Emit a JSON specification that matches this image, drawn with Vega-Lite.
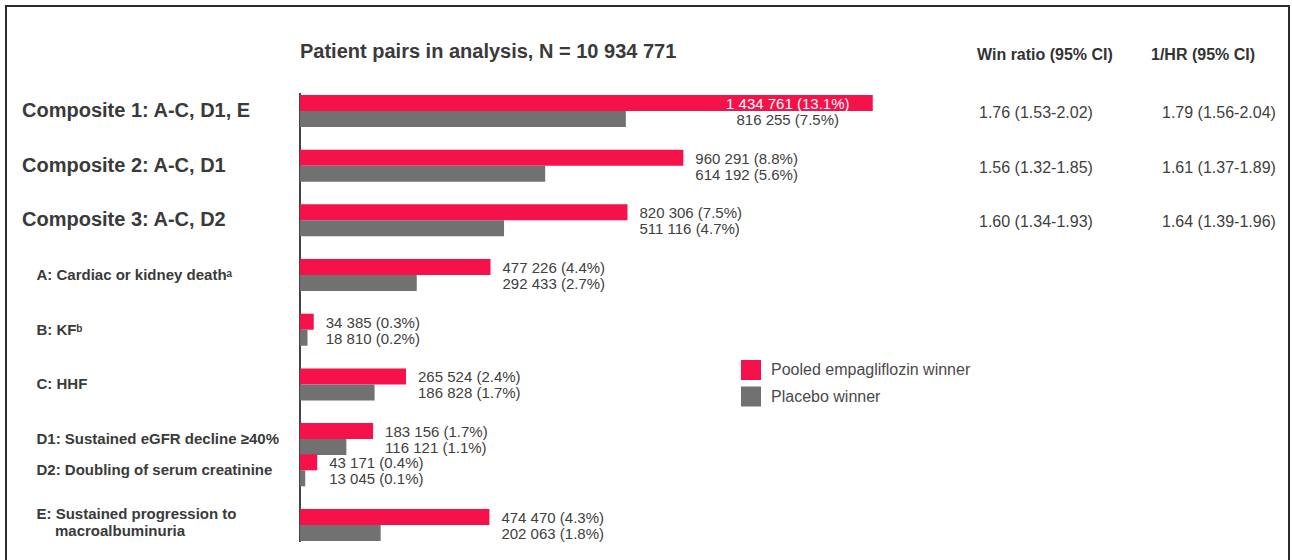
{
  "$schema": "https://vega.github.io/schema/vega-lite/v6.json",
  "width": 1283,
  "height": 555,
  "padding": {"left": 6, "top": 6, "right": 3, "bottom": -1},
  "autosize": {"type": "none"},
  "background": "white",
  "config": {"view": {"stroke": "#2b2b2b", "strokeWidth": 2}, "font": "Liberation Sans"},
  "datasets": {
    "bars": [
      {"outcome": "Composite 1: A-C, D1, E", "series": "Pooled empagliflozin winner", "n": 1434761, "label": "1 434 761 (13.1%)"},
      {"outcome": "Composite 1: A-C, D1, E", "series": "Placebo winner", "n": 816255, "label": "816 255 (7.5%)"},
      {"outcome": "Composite 2: A-C, D1", "series": "Pooled empagliflozin winner", "n": 960291, "label": "960 291 (8.8%)"},
      {"outcome": "Composite 2: A-C, D1", "series": "Placebo winner", "n": 614192, "label": "614 192 (5.6%)"},
      {"outcome": "Composite 3: A-C, D2", "series": "Pooled empagliflozin winner", "n": 820306, "label": "820 306 (7.5%)"},
      {"outcome": "Composite 3: A-C, D2", "series": "Placebo winner", "n": 511116, "label": "511 116 (4.7%)"},
      {"outcome": "A: Cardiac or kidney deathᵃ", "series": "Pooled empagliflozin winner", "n": 477226, "label": "477 226 (4.4%)"},
      {"outcome": "A: Cardiac or kidney deathᵃ", "series": "Placebo winner", "n": 292433, "label": "292 433 (2.7%)"},
      {"outcome": "B: KFᵇ", "series": "Pooled empagliflozin winner", "n": 34385, "label": "34 385 (0.3%)"},
      {"outcome": "B: KFᵇ", "series": "Placebo winner", "n": 18810, "label": "18 810 (0.2%)"},
      {"outcome": "C: HHF", "series": "Pooled empagliflozin winner", "n": 265524, "label": "265 524 (2.4%)"},
      {"outcome": "C: HHF", "series": "Placebo winner", "n": 186828, "label": "186 828 (1.7%)"},
      {"outcome": "D1: Sustained eGFR decline ≥40%", "series": "Pooled empagliflozin winner", "n": 183156, "label": "183 156 (1.7%)"},
      {"outcome": "D1: Sustained eGFR decline ≥40%", "series": "Placebo winner", "n": 116121, "label": "116 121 (1.1%)"},
      {"outcome": "D2: Doubling of serum creatinine", "series": "Pooled empagliflozin winner", "n": 43171, "label": "43 171 (0.4%)"},
      {"outcome": "D2: Doubling of serum creatinine", "series": "Placebo winner", "n": 13045, "label": "13 045 (0.1%)"},
      {"outcome": "E: Sustained progression to macroalbuminuria", "series": "Pooled empagliflozin winner", "n": 474470, "label": "474 470 (4.3%)"},
      {"outcome": "E: Sustained progression to macroalbuminuria", "series": "Placebo winner", "n": 202063, "label": "202 063 (1.8%)"}
    ],
    "labels": [
      {"outcome": "Composite 1: A-C, D1, E", "text": "Composite 1: A-C, D1, E"},
      {"outcome": "Composite 2: A-C, D1", "text": "Composite 2: A-C, D1"},
      {"outcome": "Composite 3: A-C, D2", "text": "Composite 3: A-C, D2"},
      {"outcome": "A: Cardiac or kidney deathᵃ", "text": "A: Cardiac or kidney deathᵃ"},
      {"outcome": "B: KFᵇ", "text": "B: KFᵇ"},
      {"outcome": "C: HHF", "text": "C: HHF"},
      {"outcome": "D1: Sustained eGFR decline ≥40%", "text": "D1: Sustained eGFR decline ≥40%"},
      {"outcome": "D2: Doubling of serum creatinine", "text": "D2: Doubling of serum creatinine"},
      {"outcome": "E: Sustained progression to macroalbuminuria", "text": "E: Sustained progression to"},
      {"outcome": "E: Sustained progression to macroalbuminuria", "text": "macroalbuminuria"}
    ],
    "stats": [
      {"outcome": "Composite 1: A-C, D1, E", "col": "Win ratio (95% CI)", "v": "1.76 (1.53-2.02)"},
      {"outcome": "Composite 1: A-C, D1, E", "col": "1/HR (95% CI)", "v": "1.79 (1.56-2.04)"},
      {"outcome": "Composite 2: A-C, D1", "col": "Win ratio (95% CI)", "v": "1.56 (1.32-1.85)"},
      {"outcome": "Composite 2: A-C, D1", "col": "1/HR (95% CI)", "v": "1.61 (1.37-1.89)"},
      {"outcome": "Composite 3: A-C, D2", "col": "Win ratio (95% CI)", "v": "1.60 (1.34-1.93)"},
      {"outcome": "Composite 3: A-C, D2", "col": "1/HR (95% CI)", "v": "1.64 (1.39-1.96)"}
    ]
  },
  "layer": [
    {
      "layer": [
        {
          "data": {"values": [{}]},
          "mark": {"type": "rule", "color": "#444444", "strokeWidth": 2},
          "encoding": {
            "x": {"datum": 0, "type": "quantitative", "axis": null,
              "scale": {"domain": [-736470, 2477445], "nice": false, "zero": false}},
            "y": {"datum": "_5", "type": "nominal", "bandPosition": 0.2, "axis": null,
              "scale": {"type": "band", "domain": ["_h","_1","_2","_3","_4","_5","_6","Composite 1: A-C, D1, E","_7","_8","_9","_10","_11","_12","Composite 2: A-C, D1","_13","_14","_15","_16","_17","_18","Composite 3: A-C, D2","_19","_20","_21","_22","_23","_24","A: Cardiac or kidney deathᵃ","_25","_26","_27","_28","_29","_30","B: KFᵇ","_31","_32","_33","_34","_35","_36","C: HHF","_37","_38","_39","_40","_41","_42","D1: Sustained eGFR decline ≥40%","_43","_44","_45","D2: Doubling of serum creatinine","_46","_47","_48","_49","_50","_51","E: Sustained progression to macroalbuminuria","_52","_53"], "paddingInner": 0, "paddingOuter": 0, "range": [46.415, 538.53], "round": false}},
            "y2": {"datum": "_53", "bandPosition": 0.68}
          }
        },
        {
          "data": {"name": "bars"},
          "mark": {"type": "bar"},
          "encoding": {
            "x": {"field": "n", "type": "quantitative", "axis": null,
              "scale": {"domain": [-736470, 2477445], "nice": false, "zero": false}},
            "x2": {"datum": 0},
            "y": {"field": "outcome", "type": "nominal", "axis": null,
              "scale": {"type": "band", "domain": ["_h","_1","_2","_3","_4","_5","_6","Composite 1: A-C, D1, E","_7","_8","_9","_10","_11","_12","Composite 2: A-C, D1","_13","_14","_15","_16","_17","_18","Composite 3: A-C, D2","_19","_20","_21","_22","_23","_24","A: Cardiac or kidney deathᵃ","_25","_26","_27","_28","_29","_30","B: KFᵇ","_31","_32","_33","_34","_35","_36","C: HHF","_37","_38","_39","_40","_41","_42","D1: Sustained eGFR decline ≥40%","_43","_44","_45","D2: Doubling of serum creatinine","_46","_47","_48","_49","_50","_51","E: Sustained progression to macroalbuminuria","_52","_53"], "paddingInner": 0, "paddingOuter": 0, "range": [46.415, 538.53], "round": false}},
            "yOffset": {"field": "series", "type": "nominal",
              "scale": {"domain": ["Pooled empagliflozin winner", "Placebo winner"], "range": [-12.094, 19.906], "paddingInner": 0, "paddingOuter": 0}},
            "color": {"field": "series", "type": "nominal",
              "scale": {"domain": ["Pooled empagliflozin winner", "Placebo winner"], "range": ["#f5114a", "#717171"]},
              "legend": {"orient": "none", "legendX": 735, "legendY": 354, "title": null, "padding": 0,
                "symbolType": "square", "symbolSize": 400, "symbolStrokeWidth": 0,
                "labelFontSize": 16, "labelColor": "#4a4a4a", "labelOffset": 10, "rowPadding": 6.5, "labelLimit": 0}}
          }
        },
        {
          "data": {"name": "bars"},
          "transform": [{"joinaggregate": [{"op": "max", "field": "n", "as": "nmax"}], "groupby": ["outcome"]}],
          "mark": {"type": "text", "fontSize": 15, "baseline": "middle", "dy": 1,
            "align": {"expr": "datum.outcome == 'Composite 1: A-C, D1, E' ? 'center' : 'left'"},
            "dx": {"expr": "datum.outcome == 'Composite 1: A-C, D1, E' ? -85 : 12"}},
          "encoding": {
            "x": {"field": "nmax", "type": "quantitative", "axis": null,
              "scale": {"domain": [-736470, 2477445], "nice": false, "zero": false}},
            "y": {"field": "outcome", "type": "nominal", "axis": null,
              "scale": {"type": "band", "domain": ["_h","_1","_2","_3","_4","_5","_6","Composite 1: A-C, D1, E","_7","_8","_9","_10","_11","_12","Composite 2: A-C, D1","_13","_14","_15","_16","_17","_18","Composite 3: A-C, D2","_19","_20","_21","_22","_23","_24","A: Cardiac or kidney deathᵃ","_25","_26","_27","_28","_29","_30","B: KFᵇ","_31","_32","_33","_34","_35","_36","C: HHF","_37","_38","_39","_40","_41","_42","D1: Sustained eGFR decline ≥40%","_43","_44","_45","D2: Doubling of serum creatinine","_46","_47","_48","_49","_50","_51","E: Sustained progression to macroalbuminuria","_52","_53"], "paddingInner": 0, "paddingOuter": 0, "range": [46.415, 538.53], "round": false}},
            "yOffset": {"field": "series", "type": "nominal",
              "scale": {"domain": ["Pooled empagliflozin winner", "Placebo winner"], "range": [-12.094, 19.906], "paddingInner": 0, "paddingOuter": 0}},
            "text": {"field": "label"},
            "color": {"condition": {"test": "datum.outcome == 'Composite 1: A-C, D1, E' && datum.series == 'Pooled empagliflozin winner'", "value": "#ffffff"}, "value": "#404040"}
          }
        },
        {
          "data": {"name": "labels"},
          "mark": {"type": "text", "align": "left", "baseline": "middle", "fontWeight": "bold", "color": "#3a3a3a",
            "fontSize": {"expr": "indexof(datum.outcome, 'Composite') == 0 ? 20 : 15"},
            "dx": {"expr": "indexof(datum.outcome, 'Composite') == 0 ? 0 : (datum.text == 'macroalbuminuria' ? 33 : 14.5)"},
            "dy": {"expr": "datum.text == 'macroalbuminuria' ? 6 : (datum.text == 'E: Sustained progression to' ? -11 : 0)"}},
          "encoding": {
            "x": {"datum": -696390, "type": "quantitative", "axis": null,
              "scale": {"domain": [-736470, 2477445], "nice": false, "zero": false}},
            "y": {"field": "outcome", "type": "nominal", "axis": null,
              "scale": {"type": "band", "domain": ["_h","_1","_2","_3","_4","_5","_6","Composite 1: A-C, D1, E","_7","_8","_9","_10","_11","_12","Composite 2: A-C, D1","_13","_14","_15","_16","_17","_18","Composite 3: A-C, D2","_19","_20","_21","_22","_23","_24","A: Cardiac or kidney deathᵃ","_25","_26","_27","_28","_29","_30","B: KFᵇ","_31","_32","_33","_34","_35","_36","C: HHF","_37","_38","_39","_40","_41","_42","D1: Sustained eGFR decline ≥40%","_43","_44","_45","D2: Doubling of serum creatinine","_46","_47","_48","_49","_50","_51","E: Sustained progression to macroalbuminuria","_52","_53"], "paddingInner": 0, "paddingOuter": 0, "range": [46.415, 538.53], "round": false}},
            "text": {"field": "text"}
          }
        },
        {
          "data": {"values": [{"t": "Patient pairs in analysis, N = 10 934 771"}]},
          "mark": {"type": "text", "align": "left", "baseline": "middle", "fontSize": 20, "fontWeight": "bold", "color": "#3a3a3a", "dy": -4},
          "encoding": {
            "x": {"datum": 0, "type": "quantitative", "axis": null,
              "scale": {"domain": [-736470, 2477445], "nice": false, "zero": false}},
            "y": {"datum": "_h", "type": "nominal", "axis": null,
              "scale": {"type": "band", "domain": ["_h","_1","_2","_3","_4","_5","_6","Composite 1: A-C, D1, E","_7","_8","_9","_10","_11","_12","Composite 2: A-C, D1","_13","_14","_15","_16","_17","_18","Composite 3: A-C, D2","_19","_20","_21","_22","_23","_24","A: Cardiac or kidney deathᵃ","_25","_26","_27","_28","_29","_30","B: KFᵇ","_31","_32","_33","_34","_35","_36","C: HHF","_37","_38","_39","_40","_41","_42","D1: Sustained eGFR decline ≥40%","_43","_44","_45","D2: Doubling of serum creatinine","_46","_47","_48","_49","_50","_51","E: Sustained progression to macroalbuminuria","_52","_53"], "paddingInner": 0, "paddingOuter": 0, "range": [46.415, 538.53], "round": false}},
            "text": {"field": "t"}
          }
        }
      ]
    },
    {
      "layer": [
        {
          "data": {"values": [{"col": "Win ratio (95% CI)"}, {"col": "1/HR (95% CI)"}]},
          "mark": {"type": "text", "align": "left", "baseline": "middle", "fontSize": 16, "fontWeight": "bold", "color": "#333333", "dy": -1},
          "encoding": {
            "x": {"field": "col", "type": "nominal", "axis": null,
              "scale": {"type": "point", "domain": ["Win ratio (95% CI)", "1/HR (95% CI)"], "range": [971, 1145], "padding": 0}},
            "y": {"datum": "_h", "type": "nominal", "axis": null,
              "scale": {"type": "band", "domain": ["_h","_1","_2","_3","_4","_5","_6","Composite 1: A-C, D1, E","_7","_8","_9","_10","_11","_12","Composite 2: A-C, D1","_13","_14","_15","_16","_17","_18","Composite 3: A-C, D2","_19","_20","_21","_22","_23","_24","A: Cardiac or kidney deathᵃ","_25","_26","_27","_28","_29","_30","B: KFᵇ","_31","_32","_33","_34","_35","_36","C: HHF","_37","_38","_39","_40","_41","_42","D1: Sustained eGFR decline ≥40%","_43","_44","_45","D2: Doubling of serum creatinine","_46","_47","_48","_49","_50","_51","E: Sustained progression to macroalbuminuria","_52","_53"], "paddingInner": 0, "paddingOuter": 0, "range": [46.415, 538.53], "round": false}},
            "text": {"field": "col"}
          }
        },
        {
          "data": {"name": "stats"},
          "mark": {"type": "text", "align": "left", "baseline": "middle", "fontSize": 16, "color": "#404040", "dy": 2,
            "dx": {"expr": "datum.col == '1/HR (95% CI)' ? 11 : 2"}},
          "encoding": {
            "x": {"field": "col", "type": "nominal", "axis": null,
              "scale": {"type": "point", "domain": ["Win ratio (95% CI)", "1/HR (95% CI)"], "range": [971, 1145], "padding": 0}},
            "y": {"field": "outcome", "type": "nominal", "axis": null,
              "scale": {"type": "band", "domain": ["_h","_1","_2","_3","_4","_5","_6","Composite 1: A-C, D1, E","_7","_8","_9","_10","_11","_12","Composite 2: A-C, D1","_13","_14","_15","_16","_17","_18","Composite 3: A-C, D2","_19","_20","_21","_22","_23","_24","A: Cardiac or kidney deathᵃ","_25","_26","_27","_28","_29","_30","B: KFᵇ","_31","_32","_33","_34","_35","_36","C: HHF","_37","_38","_39","_40","_41","_42","D1: Sustained eGFR decline ≥40%","_43","_44","_45","D2: Doubling of serum creatinine","_46","_47","_48","_49","_50","_51","E: Sustained progression to macroalbuminuria","_52","_53"], "paddingInner": 0, "paddingOuter": 0, "range": [46.415, 538.53], "round": false}},
            "text": {"field": "v"}
          }
        }
      ]
    }
  ],
  "resolve": {"scale": {"x": "independent"}}
}
